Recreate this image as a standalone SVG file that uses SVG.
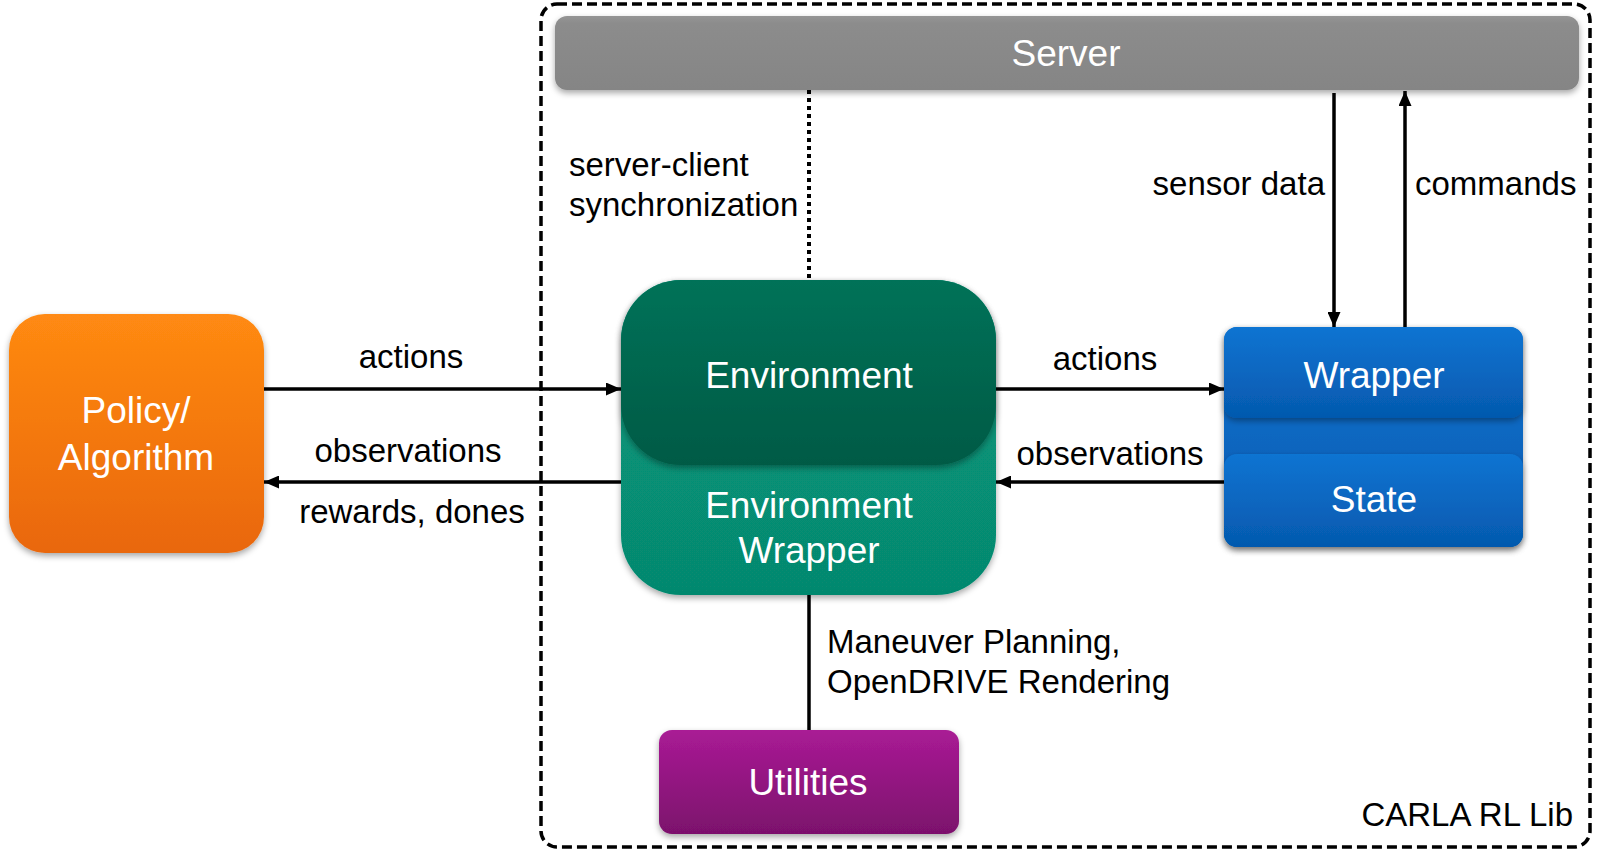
<svg xmlns="http://www.w3.org/2000/svg" width="1605" height="854" viewBox="0 0 1605 854">
<defs>
<linearGradient id="gOrange" x1="0" y1="0" x2="0" y2="1"><stop offset="0" stop-color="#ff8a12"/><stop offset="1" stop-color="#e9670a"/></linearGradient>
<linearGradient id="gEnvTop" x1="0" y1="0" x2="0" y2="1"><stop offset="0" stop-color="#007258"/><stop offset="1" stop-color="#005a45"/></linearGradient>
<linearGradient id="gEnvBot" x1="0" y1="0" x2="0" y2="1"><stop offset="0" stop-color="#089c80"/><stop offset="1" stop-color="#06886e"/></linearGradient>
<linearGradient id="gBlue" x1="0" y1="0" x2="0" y2="1"><stop offset="0" stop-color="#0d74d2"/><stop offset="1" stop-color="#0559ae"/></linearGradient>
<linearGradient id="gPurple" x1="0" y1="0" x2="0" y2="1"><stop offset="0" stop-color="#a91b95"/><stop offset="1" stop-color="#7c116c"/></linearGradient>
<linearGradient id="gGray" x1="0" y1="0" x2="0" y2="1"><stop offset="0" stop-color="#959595"/><stop offset="0.1" stop-color="#8c8c8c"/><stop offset="1" stop-color="#858585"/></linearGradient>
<filter id="sh" x="-10%" y="-10%" width="120%" height="130%"><feDropShadow dx="0" dy="3" stdDeviation="3" flood-color="#000" flood-opacity="0.35"/></filter>
<marker id="ah" viewBox="0 0 15 13" refX="15" refY="6.5" markerWidth="15" markerHeight="13" markerUnits="userSpaceOnUse" orient="auto"><path d="M0,0 L15,6.5 L0,13 Z" fill="#000"/></marker>
<style>
.node{font-family:"Liberation Sans",Arial,sans-serif;font-size:37px;fill:#fff;text-anchor:middle}
.lbl{font-family:"Liberation Sans",Arial,sans-serif;font-size:33px;fill:#000}
.c{text-anchor:middle}
.e{text-anchor:end}
.conn{stroke:#000;stroke-width:3.5;fill:none}
</style>
</defs>
<rect x="0" y="0" width="1605" height="854" fill="#fff"/>
<g id="carla-rl-lib">
<rect x="541" y="4" width="1049" height="843" rx="16" fill="none" stroke="#000" stroke-width="3.5" stroke-dasharray="10 5"/>
<text class="lbl e" x="1573" y="826">CARLA RL Lib</text>
</g>
<g id="connectors">
<line class="conn" x1="264" y1="389" x2="621" y2="389" marker-end="url(#ah)"/>
<line class="conn" x1="621" y1="482" x2="264" y2="482" marker-end="url(#ah)"/>
<line class="conn" x1="996" y1="389" x2="1224" y2="389" marker-end="url(#ah)"/>
<line class="conn" x1="1224" y1="482" x2="996" y2="482" marker-end="url(#ah)"/>
<line class="conn" x1="1334" y1="93" x2="1334" y2="327" marker-end="url(#ah)"/>
<line class="conn" x1="1405" y1="327" x2="1405" y2="91" marker-end="url(#ah)"/>
<line x1="809" y1="90" x2="809" y2="280" stroke="#000" stroke-width="4" stroke-dasharray="4 4"/>
<line class="conn" x1="809" y1="595" x2="809" y2="730"/>
<text class="lbl c" x="411" y="368">actions</text>
<text class="lbl c" x="408" y="462">observations</text>
<text class="lbl c" x="412" y="523">rewards, dones</text>
<text class="lbl c" x="1105" y="370">actions</text>
<text class="lbl c" x="1110" y="465">observations</text>
<text class="lbl e" x="1325" y="195">sensor data</text>
<text class="lbl" x="1415" y="195">commands</text>
<text class="lbl" x="569" y="176">server-client</text>
<text class="lbl" x="569" y="216">synchronization</text>
<text class="lbl" x="827" y="653">Maneuver Planning,</text>
<text class="lbl" x="827" y="693">OpenDRIVE Rendering</text>
</g>
<g id="server">
<rect x="555" y="16" width="1024" height="74" rx="12" fill="url(#gGray)" filter="url(#sh)"/>
<text class="node" x="1066" y="66">Server</text>
</g>
<g id="policy">
<rect x="9" y="314" width="255" height="239" rx="36" fill="url(#gOrange)" filter="url(#sh)"/>
<text class="node" x="136" y="423">Policy/</text>
<text class="node" x="136" y="470">Algorithm</text>
</g>
<g id="environment-wrapper">
<rect x="621" y="280" width="375" height="315" rx="60" fill="url(#gEnvBot)" filter="url(#sh)"/>
<text class="node" x="809" y="518">Environment</text>
<text class="node" x="809" y="563">Wrapper</text>
</g>
<g id="environment">
<rect x="621" y="280" width="375" height="185" rx="60" fill="url(#gEnvTop)" filter="url(#sh)"/>
<text class="node" x="809" y="388">Environment</text>
</g>
<g id="wrapper-state">
<rect x="1224" y="327" width="299" height="220" rx="13" fill="url(#gBlue)" filter="url(#sh)"/>
</g>
<g id="state">
<rect x="1224" y="454" width="299" height="93" rx="13" fill="url(#gBlue)" filter="url(#sh)"/>
<text class="node" x="1374" y="512">State</text>
</g>
<g id="wrapper">
<rect x="1224" y="327" width="299" height="91" rx="13" fill="url(#gBlue)" filter="url(#sh)"/>
<text class="node" x="1374" y="388">Wrapper</text>
</g>
<g id="utilities">
<rect x="659" y="730" width="300" height="104" rx="13" fill="url(#gPurple)" filter="url(#sh)"/>
<text class="node" x="808" y="795">Utilities</text>
</g>
</svg>
